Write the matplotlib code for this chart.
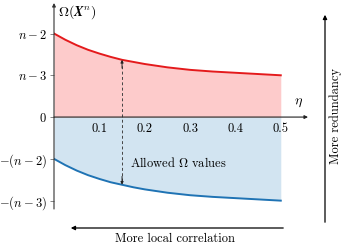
import numpy as np
import matplotlib
matplotlib.use("Agg")
import matplotlib.pyplot as plt

plt.rcParams["font.family"] = "cmr10"
plt.rcParams["mathtext.fontset"] = "cm"
plt.rcParams["axes.unicode_minus"] = False

# ============ DATA ============
eta = [0.0, 0.025, 0.05, 0.075, 0.1, 0.125, 0.15, 0.175, 0.2, 0.25, 0.3, 0.35, 0.4, 0.45, 0.5]
upper = [2.0, 1.85, 1.72, 1.61, 1.52, 1.44, 1.37, 1.32, 1.27, 1.19, 1.13, 1.09, 1.06, 1.03, 1.0]
lower = [-1.0, -1.15, -1.28, -1.39, -1.48, -1.56, -1.62, -1.68, -1.73, -1.81, -1.87, -1.91, -1.94, -1.97, -2.0]
ytick_pos = [2, 1, 0, -1, -2]
ytick_lab = ["$n-2$", "$n-3$", "$0$", "$-(n-2)$", "$-(n-3)$"]
xtick_pos = [0.1, 0.2, 0.3, 0.4, 0.5]
eta_mark = 0.15

RED = "#e41a1c"
BLUE = "#1f73b4"
FS = 9

fig = plt.figure(figsize=(3.46, 2.47), dpi=100)
ax = fig.add_axes([54 / 346, 38 / 247, 254 / 346, 206 / 247])
ax.set_xlim(0, 0.56)
ax.set_ylim(-2.2, 2.73)
for s in ax.spines.values():
    s.set_visible(False)
ax.set_xticks([])
ax.set_yticks(ytick_pos)
ax.set_yticklabels(ytick_lab, fontsize=FS)
ax.tick_params(axis="y", length=3, width=0.5, color="#555555", pad=2)

# fills and curves
ax.fill_between(eta, 0, upper, color="#fdcbcb", lw=0)
ax.fill_between(eta, lower, 0, color="#d2e4f1", lw=0)
ax.plot(eta, upper, color=RED, lw=1.4)
ax.plot(eta, lower, color=BLUE, lw=1.4)

# axes arrows
ax.annotate("", xy=(0, 2.73), xytext=(0, -2.2), annotation_clip=False,
            arrowprops=dict(arrowstyle="-|>", lw=0.8, color="#333333",
                            mutation_scale=5, shrinkA=0, shrinkB=0))
ax.annotate("", xy=(0.56, 0), xytext=(0, 0), annotation_clip=False,
            arrowprops=dict(arrowstyle="-|>", lw=0.8, color="#222222",
                            mutation_scale=5, shrinkA=0, shrinkB=0))

for xv in xtick_pos:
    ax.text(xv, -0.29, "%.1f" % xv, ha="center", va="center", fontsize=FS)

ax.text(0.54, 0.34, r"$\eta$", ha="center", va="center", fontsize=FS + 1)
ax.text(0.008, 2.52, r"$\Omega(\boldsymbol{X}^n)$", ha="left", va="center", fontsize=FS + 1)

# dashed double arrow
i = eta.index(eta_mark)
ax.plot([eta_mark, eta_mark], [lower[i] + 0.1, upper[i] - 0.1], ls=(0, (3, 2.5)),
        color="#444444", lw=0.7)
ax.annotate("", xy=(eta_mark, upper[i]), xytext=(eta_mark, upper[i] - 0.2),
            arrowprops=dict(arrowstyle="-|>", lw=0.7, color="#222222",
                            mutation_scale=4, shrinkA=0, shrinkB=0))
ax.annotate("", xy=(eta_mark, lower[i]), xytext=(eta_mark, lower[i] + 0.2),
            arrowprops=dict(arrowstyle="-|>", lw=0.7, color="#222222",
                            mutation_scale=4, shrinkA=0, shrinkB=0))
ax.text(0.167, -1.09, r"Allowed $\Omega$ values", ha="left", va="center", fontsize=FS)

# side arrows
fig.patches.append(matplotlib.patches.FancyArrowPatch(
    (325 / 346, 1 - 225 / 247), (325 / 346, 1 - 12 / 247), transform=fig.transFigure,
    arrowstyle="-|>", mutation_scale=6, lw=0.9, color="black"))
fig.text(336 / 346, 1 - 116 / 247, "More redundancy", rotation=90,
         ha="center", va="center", fontsize=FS)
fig.patches.append(matplotlib.patches.FancyArrowPatch(
    (286 / 346, 1 - 228 / 247), (68 / 346, 1 - 228 / 247), transform=fig.transFigure,
    arrowstyle="-|>", mutation_scale=6, lw=0.9, color="black"))
fig.text(175 / 346, 1 - 239 / 247, "More local correlation",
         ha="center", va="center", fontsize=FS)

fig.savefig("out.png", dpi=100)
